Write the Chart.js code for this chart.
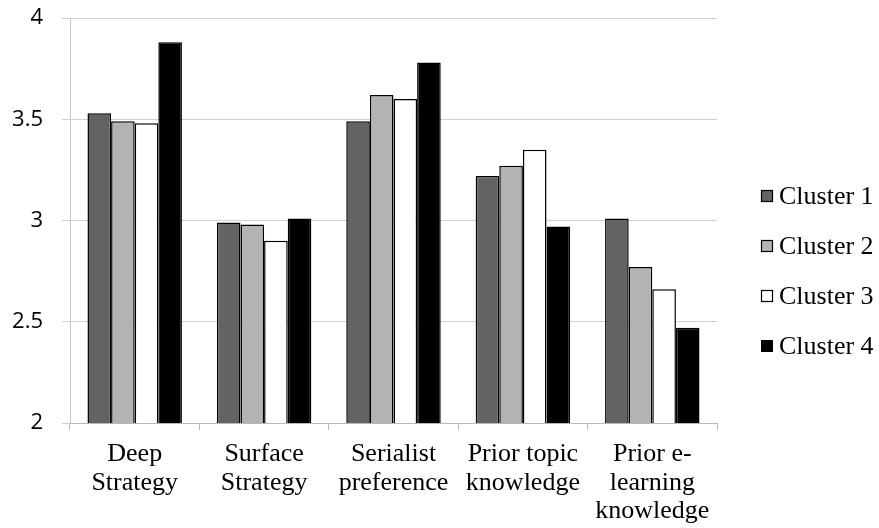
<!DOCTYPE html>
<html>
<head>
<meta charset="utf-8">
<script src="https://cdn.jsdelivr.net/npm/chart.js@4/dist/chart.umd.min.js"></script>
<style>
  html, body { margin: 0; padding: 0; background: #fff; }
  #wrap { width: 879px; height: 528px; position: relative; }
</style>
</head>
<body>
<div id="wrap"><canvas id="bars"></canvas></div>
<script>
let categories = [
        ['Deep', 'Strategy'],
        ['Surface', 'Strategy'],
        ['Serialist', 'preference'],
        ['Prior topic', 'knowledge'],
        ['Prior e-', 'learning', 'knowledge']
    ],
    cluster1 = [3.53, 2.99, 3.49, 3.22, 3.01],
    cluster2 = [3.49, 2.98, 3.62, 3.27, 2.77],
    cluster3 = [3.48, 2.90, 3.60, 3.35, 2.66],
    cluster4 = [3.88, 3.01, 3.78, 2.97, 2.47],
    seriesNames = ['Cluster 1', 'Cluster 2', 'Cluster 3', 'Cluster 4'],
    yTicks = [2, 2.5, 3, 3.5, 4];

let fills = ['#636363', '#b3b3b3', '#ffffff', '#000000'];
let allSeries = [cluster1, cluster2, cluster3, cluster4];
let timesFont = "'Liberation Serif', serif";

// legend drawn at the right, next to the plot
const sideLegend = {
    id: 'sideLegend',
    afterDraw(chart) {
        let ctx = chart.ctx,
            area = chart.chartArea,
            x = area.right + 44,
            y0 = 196;
        ctx.save();
        ctx.font = '26px ' + timesFont;
        ctx.textBaseline = 'middle';
        chart.data.datasets.forEach((ds, i) => {
            let y = y0 + i * 50;
            ctx.fillStyle = ds.backgroundColor;
            ctx.fillRect(x, y - 6, 12, 12);
            if (i < 3) {
                ctx.strokeStyle = '#000';
                ctx.lineWidth = 1.2;
                ctx.strokeRect(x + 0.5, y - 5.5, 11, 11);
            }
            ctx.fillStyle = '#000';
            ctx.fillText(ds.label, x + 18, y + 1);
        });
        ctx.restore();
    }
};

document.addEventListener('DOMContentLoaded', () => {
    new Chart(
        document.getElementById('bars'),
        {
            type: 'bar',
            data: {
                labels: categories,
                datasets: allSeries.map((vals, i) => ({
                    label: seriesNames[i],
                    data: vals,
                    backgroundColor: fills[i],
                    borderColor: '#000',
                    borderWidth: 1.5,
                    categoryPercentage: 0.73,
                    barPercentage: 1
                }))
            },
            options: {
                animation: false,
                maintainAspectRatio: false,
                layout: {
                    autoPadding: false,
                    padding: { top: 18, right: 162, left: 12, bottom: 0 }
                },
                plugins: {
                    legend: { display: false },
                    tooltip: { enabled: false }
                },
                scales: {
                    y: {
                        min: 2,
                        max: 4,
                        afterBuildTicks: axis => {
                            axis.ticks = yTicks.map(v => ({ value: v }));
                        },
                        afterFit: axis => {
                            axis.width = 58;
                            axis.paddingTop = 0;
                            axis.paddingBottom = 0;
                        },
                        ticks: {
                            color: '#000',
                            padding: 19,
                            callback: v => String(v),
                            font: { family: "'Open Sans', sans-serif", size: 22 }
                        },
                        grid: {
                            color: '#d0d0d0',
                            lineWidth: 1,
                            tickLength: 8
                        },
                        border: { color: '#c8c8c8' }
                    },
                    x: {
                        afterFit: axis => { axis.height = 105; },
                        ticks: {
                            color: '#000',
                            padding: 10,
                            maxRotation: 0,
                            font: { family: timesFont, size: 26, lineHeight: 1.1 }
                        },
                        grid: {
                            drawOnChartArea: false,
                            color: '#b8b8b8',
                            tickLength: 7
                        },
                        border: { color: '#b8b8b8' }
                    }
                }
            },
            plugins: [sideLegend]
        }
    );
});
</script>
</body>
</html>
